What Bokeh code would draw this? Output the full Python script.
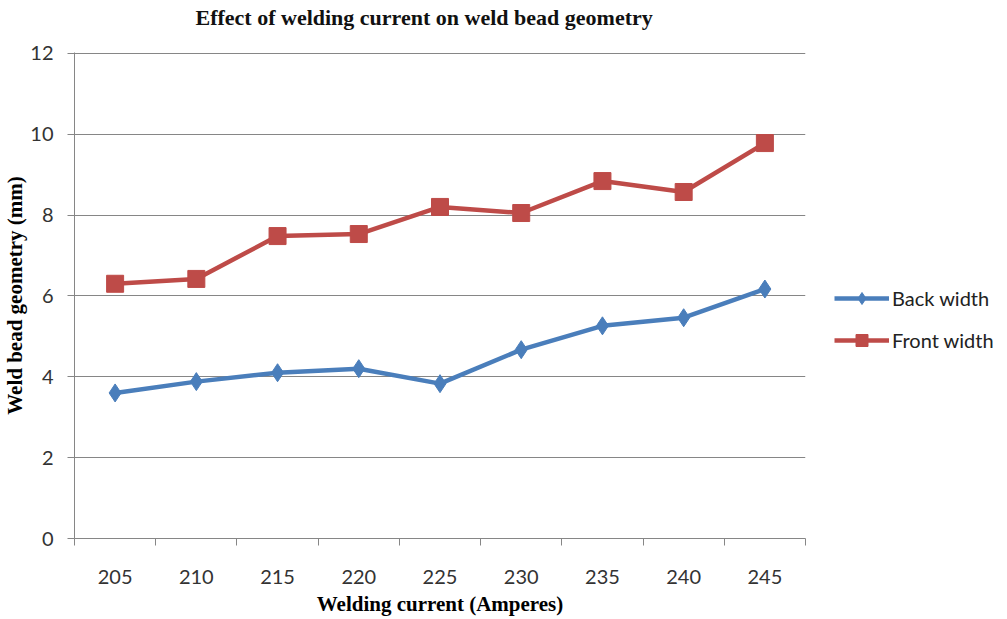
from bokeh.plotting import figure
from bokeh.models import (Range1d, FixedTicker, Legend, LegendItem, ColumnDataSource,
                          LinearAxis)
from bokeh.embed import file_html
from bokeh.resources import INLINE

currents = ["205", "210", "215", "220", "225", "230", "235", "240", "245"]
back_width = [3.60, 3.88, 4.10, 4.20, 3.83, 4.67, 5.26, 5.46, 6.17]
front_width = [6.30, 6.42, 7.48, 7.53, 8.20, 8.05, 8.84, 8.57, 9.78]
y_ticks = [0, 2, 4, 6, 8, 10, 12]

xpos = [i + 0.5 for i in range(len(currents))]
src = ColumnDataSource(dict(x=xpos, back=back_width, front=front_width))

p = figure(frame_width=731, frame_height=486, output_backend="svg", toolbar_location=None,
           x_range=Range1d(0, len(currents)), y_range=Range1d(0, 12.02),
           min_border_left=67, min_border_right=193, min_border_top=45,
           min_border_bottom=72)
p.outline_line_color = None
p.background_fill_color = "white"
p.border_fill_color = "white"

p.title.text = "Effect of welding current on weld bead geometry"
p.title.text_font = "Liberation Serif"
p.title.text_font_style = "bold"
p.title.text_font_size = "22px"
p.title.text_color = "#111111"
p.title.align = "left"
p.title.offset = 121
p.title.standoff = 4

# invisible spacer between title and plot frame
spacer = LinearAxis(ticker=FixedTicker(ticks=[4.5]), major_tick_out=21, major_tick_in=0,
                    major_tick_line_color=None, minor_tick_line_color=None,
                    axis_line_color=None, major_label_standoff=0,
                    major_label_overrides={4.5: ""},
                    major_label_text_font_size="1px")
p.add_layout(spacer, "above")

BLUE = "#4A7EBB"
RED = "#BE4B48"

bl = p.line("x", "back", source=src, line_color=BLUE, line_width=4.5)
bm = p.scatter("x", "back", source=src, marker="diamond", size=18,
               fill_color=BLUE, line_color=BLUE)
fl = p.line("x", "front", source=src, line_color=RED, line_width=4.5)
fm = p.scatter("x", "front", source=src, marker="square", size=17,
               fill_color=RED, line_color=RED)

# x axis
xa = [a for a in p.below if isinstance(a, LinearAxis)][0]
xa.ticker = FixedTicker(ticks=xpos, minor_ticks=list(range(len(currents) + 1)))
xa.major_label_overrides = {x: c for x, c in zip(xpos, currents)}
xa.major_tick_out = 0
xa.major_tick_in = 0
xa.minor_tick_out = 7
xa.minor_tick_in = 0
xa.minor_tick_line_color = "#868686"
xa.axis_line_color = "#868686"
xa.major_label_standoff = 24
xa.major_label_text_font = "Lato"
xa.major_label_text_font_size = "20px"
xa.major_label_text_color = "#333333"
xa.axis_label = "Welding current (Amperes)"
xa.axis_label_text_font = "Liberation Serif"
xa.axis_label_text_font_style = "bold"
xa.axis_label_text_font_size = "21px"
xa.axis_label_standoff = 5
xa.axis_label_text_color = "black"

# y axis
ya = p.yaxis[0]
ya.ticker = FixedTicker(ticks=y_ticks)
ya.minor_tick_line_color = None
ya.major_tick_out = 7
ya.major_tick_in = 0
ya.major_tick_line_color = "#868686"
ya.axis_line_color = "#868686"
ya.major_label_standoff = 14
ya.major_label_text_font = "Lato"
ya.major_label_text_font_size = "20px"
ya.major_label_text_color = "#333333"
ya.axis_label = "Weld bead geometry (mm)"
ya.axis_label_text_font = "Liberation Serif"
ya.axis_label_text_font_style = "bold"
ya.axis_label_text_font_size = "21px"
ya.axis_label_standoff = 0
ya.axis_label_text_color = "black"

p.xgrid.grid_line_color = None
p.ygrid.grid_line_color = "#868686"
p.ygrid.grid_line_width = 1

legend = Legend(items=[LegendItem(label="Back width", renderers=[bl, bm]),
                       LegendItem(label="Front width", renderers=[fl, fm])],
                location=(29, 183))
legend.border_line_color = None
legend.background_fill_alpha = 0
legend.label_text_font = "Lato"
legend.label_text_font_size = "20px"
legend.label_text_color = "#222222"
legend.glyph_width = 55
legend.glyph_height = 30
legend.spacing = 12
legend.label_standoff = 3
legend.padding = 0
legend.margin = 0
p.add_layout(legend, "right")

open("out.html", "w").write(file_html(p, INLINE))
